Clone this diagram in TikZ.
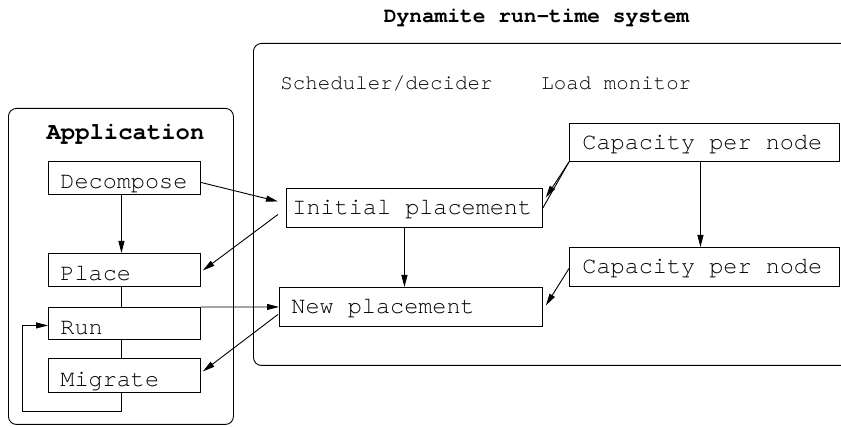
\documentclass[tikz,border=0pt]{standalone}
\usepackage{fontspec}
\setmonofont{TeX Gyre Cursor}
\usetikzlibrary{arrows.meta,calc}
\begin{document}
\begin{tikzpicture}[x=1pt,y=-1pt,line width=0.9pt,
  arr/.style={-{Triangle[length=12pt,width=6pt]}},
  boxbase/.style={draw, rectangle, anchor=north west, inner ysep=0pt, align=flush left,
    font=\ttfamily\fontsize{23.5}{26}\selectfont, text depth=0pt,
    execute at begin node={\spaceskip=0pt\xspaceskip=0pt\relax}},
  appbox/.style={boxbase, minimum height=33pt, text width=128pt, inner xsep=12pt, text height=21.4pt},
  sysbox/.style={boxbase, minimum height=39pt, text height=13.4pt},
  container/.style={draw, rounded corners=8pt, anchor=north west, inner sep=0pt},
  labeltxt/.style={inner sep=0pt, font=\ttfamily\fontsize{20.8}{24}\selectfont},
  titletxt/.style={inner sep=0pt, font=\ttfamily\bfseries\fontsize{21.2}{24}\selectfont}]
\useasboundingbox (0,0) rectangle (841,427);
\clip (0,0) rectangle (841,427);

% containers
\node[container, minimum width=225pt, minimum height=316pt] (app) at (8,108) {};
\node[container, minimum width=640pt, minimum height=322pt] (dyn) at (253,43) {};

% titles and labels
\node[titletxt] (systitle) at (536.5,17.5) {Dynamite run-time system};
\node[titletxt, font=\ttfamily\bfseries\fontsize{23.9}{26}\selectfont] (apptitle) at (125.5,134) {Application};
\node[labeltxt, anchor=west] (sched) at (280,83) {Scheduler/decider};
\node[labeltxt, anchor=west] (lmon) at (541,83) {Load monitor};

% application boxes
\node[appbox] (dec) at (48,161) {Decompose};
\node[appbox] (place) at (48,253) {Place};
\node[appbox, minimum height=32pt] (run) at (48,307) {Run};
\node[appbox, minimum height=34pt] (mig) at (48,358) {Migrate};

% system boxes
\node[sysbox, text width=244pt, inner xsep=6pt] (init) at (286,188) {Initial placement};
\node[sysbox, text width=239pt, inner xsep=12pt] (new) at (279,287) {New placement};
\node[sysbox, minimum height=38pt, text width=244pt, inner xsep=13pt] (cap1) at (569,123) {Capacity per node};
\node[sysbox, text width=244pt, inner xsep=13pt] (cap2) at (569,247) {Capacity per node};

% application internal connectors
\draw[arr] ([xshift=-3pt]dec.south) -- ([xshift=-3pt]place.north);
\draw ([xshift=-3pt]place.south) -- ([xshift=-3pt]run.north);
\draw ([xshift=-3pt]run.south) -- ([xshift=-3pt]mig.north);
\coordinate (loop) at (22,411);
\draw[arr] ([xshift=-3pt]mig.south) |- (loop) |- ([yshift=-2pt]run.west);

% cross connectors
\draw[arr] ([yshift=-4.5pt]dec.east) -- ($(init.west)+(-8,-6.5)$);
\draw[arr] ($(init.west)+(-8,6.5)$) -- ($(place.east)+(2,0.5)$);
\draw[arr] ([xshift=-10pt]init.south) -- ([xshift=-6.5pt]new.north);
\draw[arr] (run.north east) -- (new.west);
\draw[arr] ($(new.west)+(-1,7.5)$) -- ($(mig.east)+(2,-4)$);

% load monitor connectors
\draw[arr] (cap1.south west) -- ($(init.east)+(3,-10.5)$);
\draw (cap1.south west) -- (init.east);
\draw[arr] ([xshift=-4pt]cap1.south) -- ([xshift=-4pt]cap2.north);
\draw[arr] ([yshift=-1.5pt]cap2.west) -- ($(new.east)+(3,-1.5)$);
\end{tikzpicture}
\end{document}
